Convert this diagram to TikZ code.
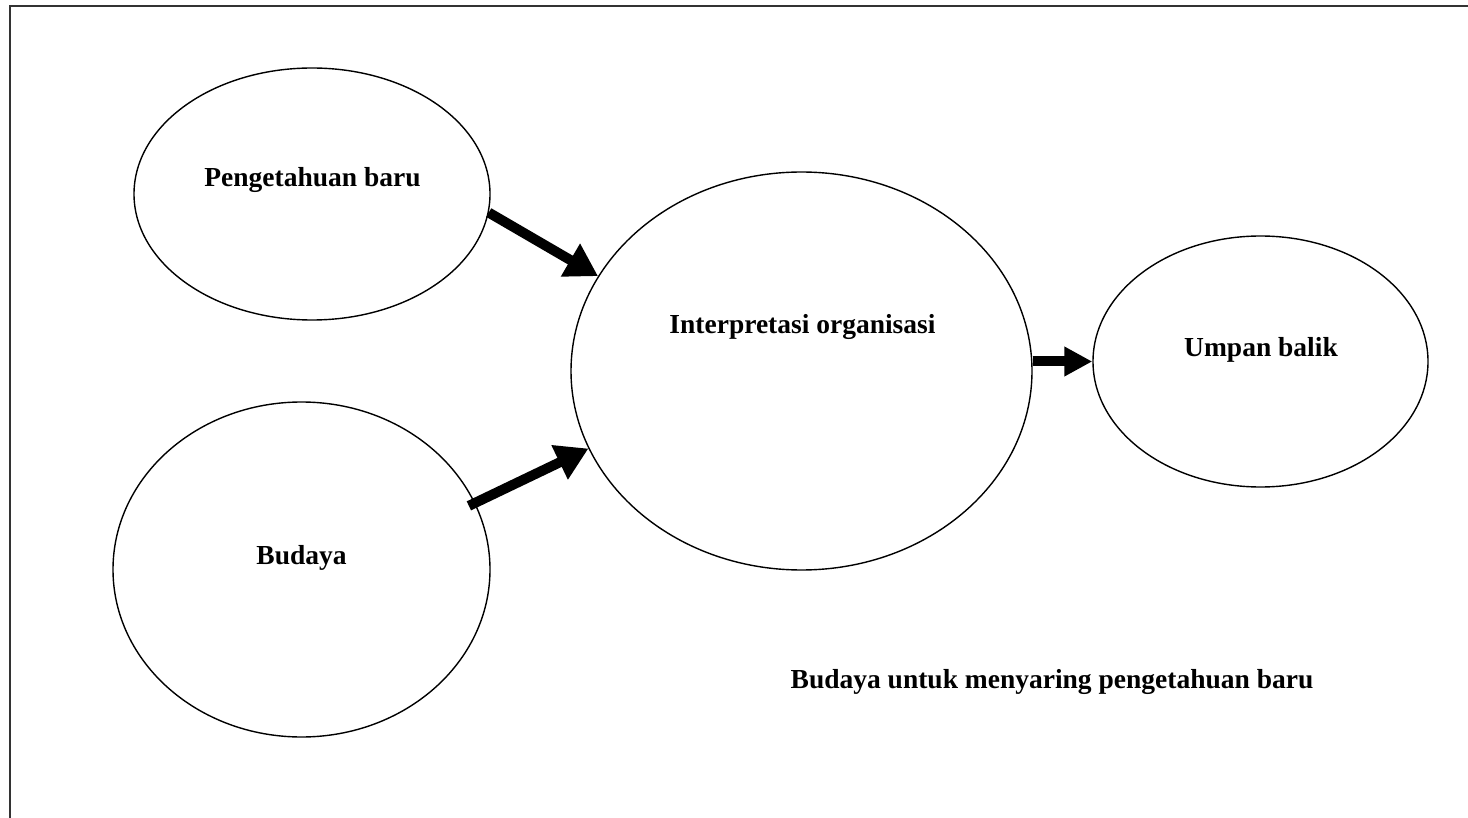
\documentclass[tikz,border=0pt]{standalone}
\usepackage{fontspec}
\setmainfont{Liberation Serif}
\usetikzlibrary{shapes.geometric,arrows.meta}
\begin{document}
\begin{tikzpicture}[x=1pt,y=-1pt,
  bubble/.style={draw,ellipse,line width=1.4pt,inner sep=0pt},
  caption/.style={font=\fontsize{27.5}{30}\selectfont\bfseries,anchor=base,inner sep=0pt},
  flow/.style={line width=10pt,-{Triangle[length=32pt,width=36pt]}}]
\useasboundingbox (0,0) rectangle (1468,818);
% page frame (top and left edges)
\draw[line width=2.4pt,black!80] (10,818) -- (10,6) -- (1468,6);
% bubbles
\node[bubble,minimum width=356pt,minimum height=252pt] (pb) at (312,194) {};
\node[bubble,minimum width=377pt,minimum height=335pt] (bd) at (301.5,569.5) {};
\node[bubble,minimum width=461pt,minimum height=398pt] (io) at (801.5,371) {};
\node[bubble,minimum width=335pt,minimum height=251pt] (ub) at (1260.5,361.5) {};
% labels
\node[caption] (pbt) at (312.5,187) {Pengetahuan baru};
\node[caption] (bdt) at (301.5,564) {Budaya};
\node[caption] (iot) at (802.5,334) {Interpretasi organisasi};
\node[caption] (ubt) at (1261,357) {Umpan balik};
\node[caption] (note) at (1052,688) {Budaya untuk menyaring pengetahuan baru};
% connectors
\draw[flow] (pb.-6) -- (io.155);
\draw[flow,shorten <=-7pt] (bd.21) -- (io.200);
\draw[flow,-{Triangle[length=28pt,width=28pt]}] (io.east |- ub.west) -- (ub.west);
\end{tikzpicture}
\end{document}
